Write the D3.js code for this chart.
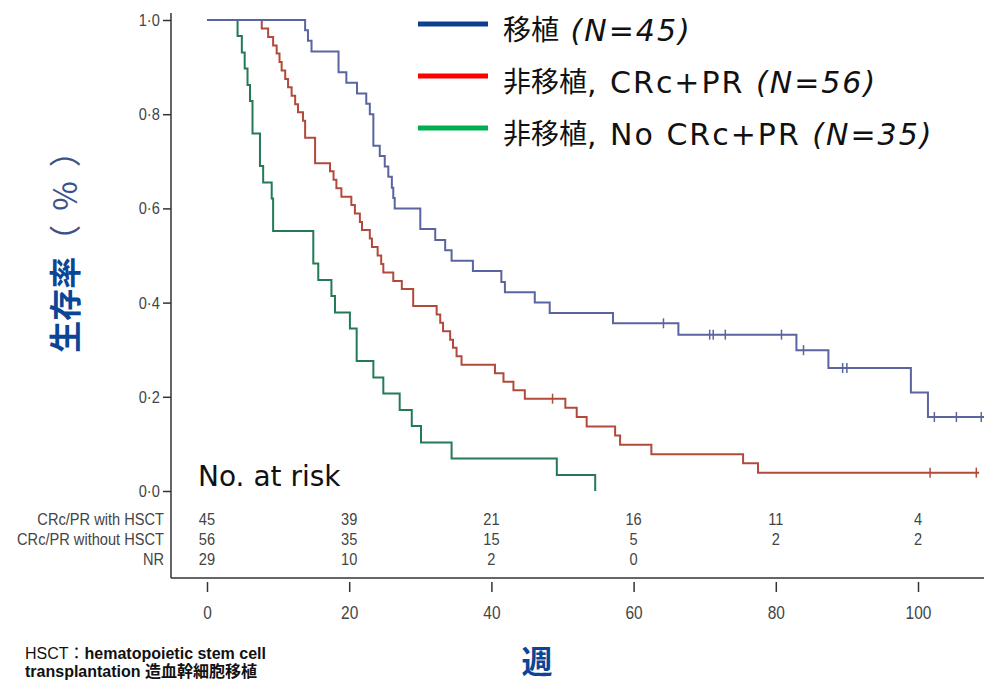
<!DOCTYPE html>
<html>
<head>
<meta charset="utf-8">
<style>
body { margin: 0; background: white; }
svg { display: block; }
.narrow { font-family: "Liberation Sans", Arial, sans-serif; }
</style>
</head>
<body>
<script src="https://cdn.jsdelivr.net/npm/d3@7"></script>
<script>
var width = 984,
    height = 685;

// step points: time (weeks) / survival
var blueTimes = [0, 13.8, 14.2, 14.7, 18.5, 19.6, 21.1, 22.4, 22.9, 23.4, 24.3, 25.0, 25.5, 26.0, 26.2, 26.4, 30.0, 32.1, 33.5, 34.4, 37.4, 41.4, 41.9, 46.1, 48.2, 57.1, 66.3, 82.9, 87.4, 99.0, 101.4];
var blueSurv  = [1, 0.978, 0.956, 0.933, 0.889, 0.867, 0.844, 0.822, 0.800, 0.733, 0.711, 0.689, 0.667, 0.644, 0.622, 0.600, 0.556, 0.533, 0.511, 0.489, 0.467, 0.444, 0.422, 0.400, 0.378, 0.356, 0.332, 0.299, 0.261, 0.209, 0.157];
var blueCensor = [64.2, 70.7, 71.2, 72.9, 80.8, 83.9, 89.4, 90.0, 102.3, 105.4, 108.9];
var blueEnd = 109.4;

var redTimes = [0, 7.7, 8.6, 9.3, 9.8, 10.2, 10.5, 11.0, 11.4, 11.9, 12.4, 12.8, 13.5, 13.8, 15.2, 17.3, 17.8, 18.2, 18.9, 20.3, 20.8, 21.5, 21.8, 22.9, 23.2, 24.0, 24.5, 24.8, 26.2, 27.4, 29.0, 32.3, 32.8, 33.2, 34.2, 34.6, 35.1, 35.8, 40.5, 41.7, 43.1, 44.7, 50.4, 52.0, 53.4, 57.4, 58.1, 62.5, 75.4, 77.5];
var redSurv  = [1, 0.982, 0.964, 0.946, 0.929, 0.911, 0.893, 0.875, 0.857, 0.839, 0.821, 0.804, 0.786, 0.750, 0.696, 0.679, 0.661, 0.643, 0.625, 0.607, 0.589, 0.571, 0.554, 0.536, 0.518, 0.500, 0.482, 0.464, 0.446, 0.429, 0.393, 0.375, 0.357, 0.339, 0.321, 0.304, 0.286, 0.268, 0.250, 0.232, 0.214, 0.196, 0.177, 0.157, 0.137, 0.118, 0.098, 0.078, 0.059, 0.039];
var redCensor = [48.6, 101.7, 108.2];
var redEnd = 108.6;

var greenTimes = [0, 4.3, 4.9, 5.3, 5.7, 6.05, 6.4, 7.45, 7.9, 9.1, 9.3, 14.95, 15.65, 17.5, 18.0, 20.1, 21.05, 23.4, 24.8, 27.1, 28.8, 30.1, 34.4, 49.2, 54.6];
var greenSurv  = [1, 0.966, 0.931, 0.897, 0.862, 0.828, 0.759, 0.690, 0.655, 0.621, 0.552, 0.483, 0.448, 0.414, 0.379, 0.345, 0.276, 0.241, 0.207, 0.172, 0.138, 0.103, 0.069, 0.034, 0];
var greenCensor = [];
var greenEnd = 54.6;

// legend
var legendNames = ["移植", "非移植", "非移植"];
var legendSub = ["", ", CRc+PR", ", No CRc+PR"];
var legendN = ["(N=45)", "(N=56)", "(N=35)"];
var legendColors = ["#0c3f8e", "#ff0000", "#00b050"];
var curveColors = ["#5a64a0", "#b24a3c", "#237a55"];

// numbers at risk
var riskWeeks = [0, 20, 40, 60, 80, 100];
var riskLabels = ["CRc/PR with HSCT", "CRc/PR without HSCT", "NR"];
var riskHSCT = [45, 39, 21, 16, 11, 4];
var riskNoHSCT = [56, 35, 15, 5, 2, 2];
var riskNR = [29, 10, 2, 0];

var xTicks = [0, 20, 40, 60, 80, 100];
var yTicks = [0, 0.2, 0.4, 0.6, 0.8, 1.0];

var svg = d3.select("body").append("svg")
    .attr("width", width)
    .attr("height", height);

var x = d3.scaleLinear().domain([0, 100]).range([207, 918]);
var y = d3.scaleLinear().domain([0, 1]).range([491, 20]);

var axisX = 171, bottomY = 578;
var squeeze = 0.86;  // fake a narrow face

// y axis
var yAxis = d3.axisLeft(y)
    .tickValues(yTicks)
    .tickSize(8)
    .tickFormat(function(d) { return d3.format(".1f")(d).replace(".", "·"); });

var gy = svg.append("g")
    .attr("transform", "translate(" + axisX + ",0)")
    .call(yAxis);
gy.select(".domain").remove();
gy.selectAll("line").attr("stroke", "#333").attr("stroke-width", 1.5);
gy.selectAll("text")
    .attr("class", "narrow")
    .attr("x", -13)
    .attr("transform", "scale(" + squeeze + ",1)")
    .attr("fill", "#444")
    .style("font-size", "17px");

svg.append("line")
    .attr("x1", axisX).attr("x2", axisX)
    .attr("y1", 13).attr("y2", bottomY)
    .attr("stroke", "#333").attr("stroke-width", 1.5);

// x axis under the table
svg.append("line")
    .attr("x1", axisX).attr("x2", width)
    .attr("y1", bottomY).attr("y2", bottomY)
    .attr("stroke", "#333").attr("stroke-width", 1.5);

var gx = svg.append("g")
    .attr("transform", "translate(0," + (bottomY + 4) + ")")
    .call(d3.axisBottom(x).tickValues(xTicks).tickSize(10).tickPadding(14));
gx.select(".domain").remove();
gx.selectAll("line").attr("stroke", "#333").attr("stroke-width", 1.5);
gx.selectAll("text")
    .attr("class", "narrow")
    .attr("transform", "scale(" + squeeze + ",1)")
    .attr("fill", "#444")
    .style("font-size", "18px");

// survival curves
var line = d3.line()
    .curve(d3.curveStepAfter)
    .x(function(d) { return x(d[0]); })
    .y(function(d) { return y(d[1]); });

var groups = [
  { t: blueTimes, s: blueSurv, c: blueCensor, end: blueEnd },
  { t: redTimes, s: redSurv, c: redCensor, end: redEnd },
  { t: greenTimes, s: greenSurv, c: greenCensor, end: greenEnd }
];

// draw green first so blue/red sit on top of the shared start
[2, 1, 0].forEach(function(i) {
  var g = groups[i];
  var pts = g.t.map(function(t, j) { return [t, g.s[j]]; });
  if (g.end > g.t[g.t.length - 1]) pts.push([g.end, g.s[g.s.length - 1]]);
  svg.append("path")
    .datum(pts)
    .attr("d", line)
    .attr("fill", "none")
    .attr("stroke", curveColors[i])
    .attr("stroke-width", 2);

  svg.selectAll(".censor" + i)
    .data(g.c)
    .enter()
    .append("line")
    .attr("class", "censor" + i)
    .attr("x1", function(d) { return x(d); })
    .attr("x2", function(d) { return x(d); })
    .attr("y1", function(d) { return y(g.s[d3.bisectRight(g.t, d) - 1]) - 5; })
    .attr("y2", function(d) { return y(g.s[d3.bisectRight(g.t, d) - 1]) + 5; })
    .attr("stroke", curveColors[i])
    .attr("stroke-width", 1.5);
});

// legend
var legFont = "'DejaVu Sans', 'Noto Sans CJK JP', sans-serif";
var leg = svg.append("g");
legendNames.forEach(function(name, i) {
  var ly = 24 + i * 52;
  leg.append("line")
    .attr("x1", 418).attr("x2", 488)
    .attr("y1", ly).attr("y2", ly)
    .attr("stroke", legendColors[i])
    .attr("stroke-width", 5);
  var t = leg.append("text")
    .attr("x", 503)
    .attr("y", ly + 8)
    .attr("dominant-baseline", "middle")
    .style("font-family", legFont)
    .style("font-size", "28px")
    .attr("fill", "#111");
  t.append("tspan").text(name);
  t.append("tspan")
    .style("font-size", "30px")
    .style("letter-spacing", "2px")
    .text(legendSub[i] + " ");
  t.append("tspan")
    .style("font-size", "30px")
    .style("letter-spacing", "2px")
    .style("font-style", "italic")
    .text(legendN[i]);
});

// numbers at risk
svg.append("text")
  .attr("x", 198).attr("y", 478)
  .attr("dominant-baseline", "middle")
  .style("font-family", legFont)
  .style("font-size", "28px")
  .attr("fill", "#111")
  .text("No. at risk");

var riskRows = [riskHSCT, riskNoHSCT, riskNR];
riskRows.forEach(function(row, i) {
  var ry = 521 + i * 20;
  svg.append("text")
    .attr("class", "narrow")
    .attr("transform", "translate(164," + ry + ") scale(" + squeeze + ",1)")
    .attr("text-anchor", "end")
    .attr("dominant-baseline", "middle")
    .attr("fill", "#444")
    .style("font-size", "17px")
    .text(riskLabels[i]);
  svg.selectAll(".risk" + i)
    .data(row)
    .enter()
    .append("text")
    .attr("class", "narrow risk" + i)
    .attr("transform", function(d, j) {
      return "translate(" + x(riskWeeks[j]) + "," + ry + ") scale(" + squeeze + ",1)";
    })
    .attr("text-anchor", "middle")
    .attr("dominant-baseline", "middle")
    .attr("fill", "#444")
    .style("font-size", "17px")
    .text(function(d) { return d; });
});

// axis titles
var yt = svg.append("text")
  .attr("transform", "translate(68,237) rotate(-90)")
  .attr("text-anchor", "middle")
  .attr("dominant-baseline", "middle")
  .style("font-family", "'Noto Sans CJK JP', sans-serif")
  .style("font-size", "32px");
yt.append("tspan").attr("fill", "#0b4596").style("font-weight", "bold").text("生存率");
yt.append("tspan").attr("fill", "#3a5288").style("letter-spacing", "14px").text("（%）");

svg.append("text")
  .attr("x", 537).attr("y", 665)
  .attr("text-anchor", "middle")
  .attr("dominant-baseline", "middle")
  .style("font-family", "'Noto Sans CJK JP', sans-serif")
  .style("font-size", "31px")
  .style("font-weight", "bold")
  .attr("fill", "#0b4596")
  .text("週");

// footnote
var fn = svg.append("text")
  .attr("x", 25).attr("y", 659)
  .style("font-family", "'Liberation Sans', 'Noto Sans CJK JP', sans-serif")
  .style("font-size", "16px")
  .attr("fill", "#111");
fn.append("tspan").text("HSCT：");
fn.append("tspan").style("font-weight", "bold").text("hematopoietic stem cell");
svg.append("text")
  .attr("x", 25).attr("y", 677)
  .style("font-family", "'Liberation Sans', 'Noto Sans CJK JP', sans-serif")
  .style("font-size", "16px")
  .style("font-weight", "bold")
  .attr("fill", "#111")
  .text("transplantation  造血幹細胞移植");
</script>
</body>
</html>
